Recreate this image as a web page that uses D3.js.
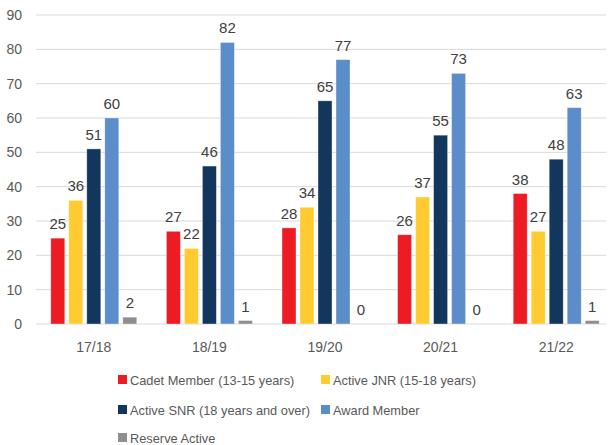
<!DOCTYPE html>
<html><head><meta charset="utf-8">
<script src="https://cdn.jsdelivr.net/npm/d3@7"></script>
<style>body{margin:0;background:#fff;}svg{display:block;font-family:"Liberation Sans",Arial,sans-serif;}</style>
</head><body><div id="chart"></div>
<script>
const categories = ["17/18","18/19","19/20","20/21","21/22"];
const seriesNames = ["Cadet Member (13-15 years)","Active JNR (15-18 years)","Active SNR (18 years and over)","Award Member","Reserve Active"];
const cadet = [25,27,28,26,38];
const activeJnr = [36,22,34,37,27];
const activeSnr = [51,46,65,55,48];
const award = [60,82,77,73,63];
const reserve = [2,1,0,0,1];
const yTicks = [0,10,20,30,40,50,60,70,80,90];
const colors = ["#ED1C24","#FFCB30","#13365C","#5A8DCA","#8F8F91"];
const seriesValues = [cadet, activeJnr, activeSnr, award, reserve];

const W = 614, H = 445;
const svg = d3.select("#chart").append("svg").attr("width", W).attr("height", H);
const x = d3.scaleBand().domain(categories).range([36, 614]).paddingInner(0).paddingOuter(0);
const y = d3.scaleLinear().domain([0, 90]).range([324, 15]);
const inner = d3.scaleBand().domain(d3.range(5)).range([-43, 43]).paddingInner(4/18).paddingOuter(0);

svg.append("g").selectAll("line").data(yTicks).join("line")
  .attr("x1", 36).attr("x2", 606).attr("y1", d => y(d)).attr("y2", d => y(d))
  .attr("stroke", "#D9D9D9").attr("stroke-width", 1);

svg.append("g").selectAll("text").data(yTicks).join("text")
  .attr("x", 22).attr("y", d => y(d) + 5).attr("text-anchor", "end")
  .attr("font-size", 14).attr("fill", "#595959").text(d => d);

svg.append("g").selectAll("text").data(categories).join("text")
  .attr("x", d => x(d) + x.bandwidth()/2).attr("y", 352).attr("text-anchor", "middle")
  .attr("font-size", 14).attr("fill", "#595959").text(d => d);

seriesValues.forEach((vals, si) => {
  const g = svg.append("g");
  g.selectAll("rect").data(vals).join("rect")
    .attr("x", (d, i) => x(categories[i]) + x.bandwidth()/2 + inner(si))
    .attr("width", inner.bandwidth())
    .attr("y", d => y(d))
    .attr("height", d => y(0) - y(d))
    .attr("fill", colors[si])
    .attr("stroke", "#fff").attr("stroke-opacity", 0.5).attr("stroke-width", 0.7);
  g.selectAll("text").data(vals).join("text")
    .attr("x", (d, i) => x(categories[i]) + x.bandwidth()/2 + inner(si) + inner.bandwidth()/2)
    .attr("y", d => y(d) - 9)
    .attr("text-anchor", "middle").attr("font-size", 15).attr("fill", "#404040")
    .text(d => d);
});

const legendPos = [[118,380],[321,380],[118,410],[321,410],[118,438]];
const lg = svg.append("g");
seriesNames.forEach((n, i) => {
  const [lx, ly] = legendPos[i];
  lg.append("rect").attr("x", lx).attr("y", ly - 5).attr("width", 9).attr("height", 9).attr("fill", colors[i]);
  lg.append("text").attr("x", lx + 12).attr("y", ly + 5).attr("font-size", 12.8).attr("fill", "#595959").text(n);
});
</script></body></html>
